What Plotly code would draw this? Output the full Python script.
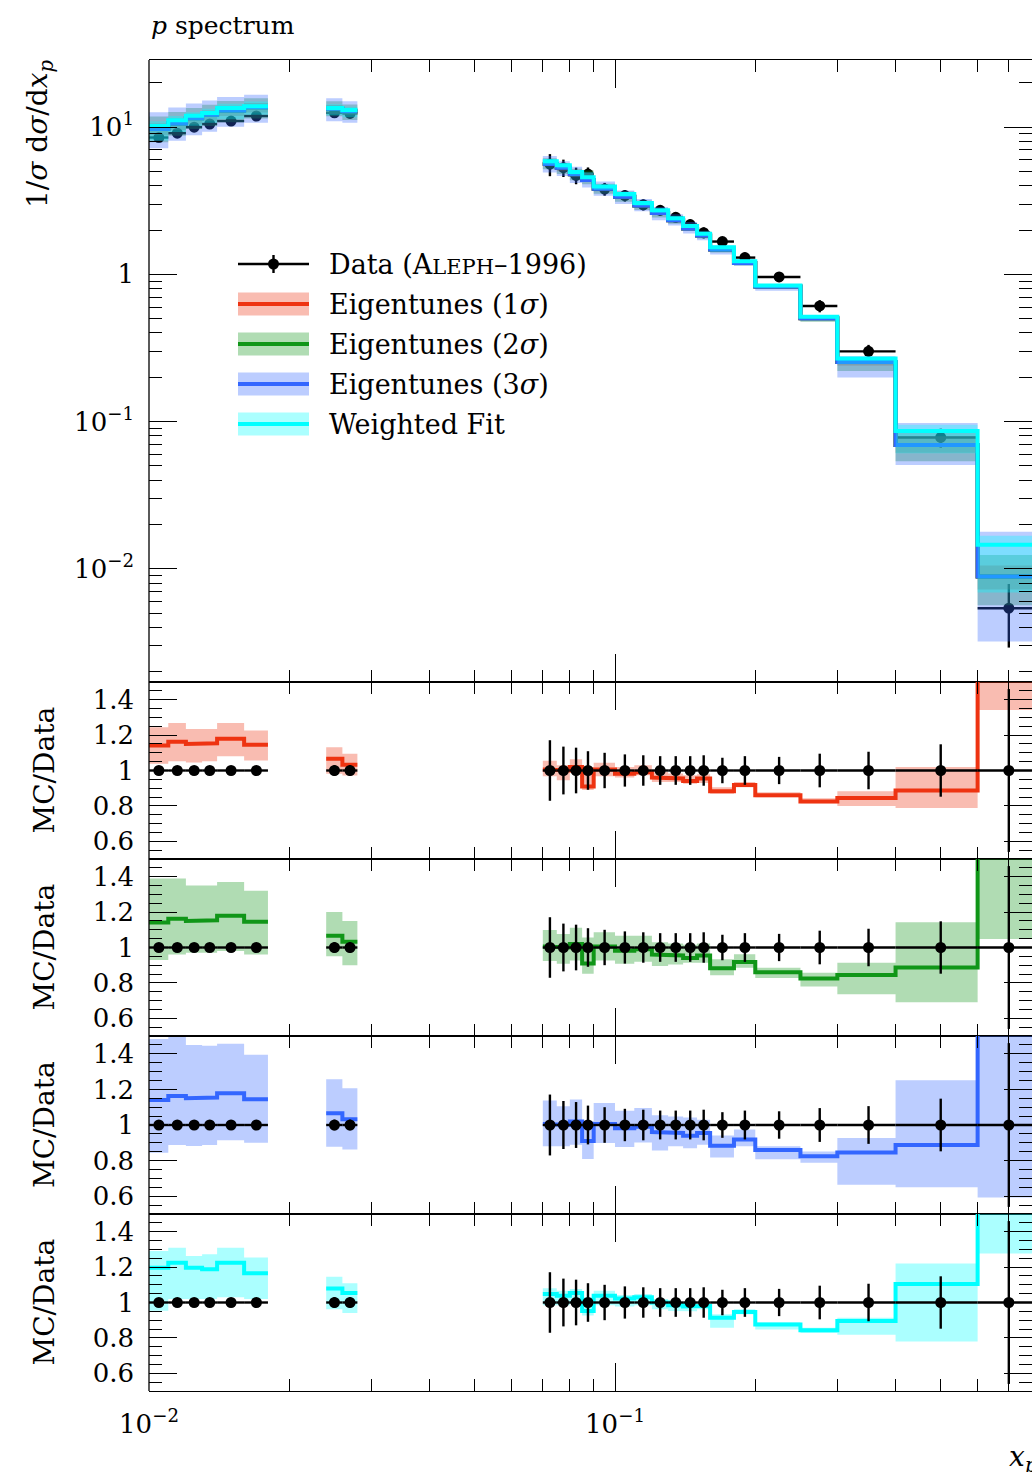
import plotly.graph_objects as go

# ---------------- data ----------------
bin_lo = [0.010, 0.011, 0.012, 0.013, 0.014, 0.016,
          0.024, 0.026,
          0.070, 0.075, 0.080, 0.085, 0.090, 0.10, 0.11, 0.12, 0.13, 0.14,
          0.15, 0.16, 0.18, 0.20, 0.25, 0.30, 0.40, 0.60]
bin_hi = [0.011, 0.012, 0.013, 0.014, 0.016, 0.018,
          0.026, 0.028,
          0.075, 0.080, 0.085, 0.090, 0.10, 0.11, 0.12, 0.13, 0.14, 0.15,
          0.16, 0.18, 0.20, 0.25, 0.30, 0.40, 0.60, 0.80]
x_mid = [0.0105, 0.0115, 0.0125, 0.0135, 0.015, 0.017,
         0.025, 0.027,
         0.0725, 0.0775, 0.0825, 0.0875, 0.095, 0.105, 0.115, 0.125, 0.135,
         0.145, 0.155, 0.17, 0.19, 0.225, 0.275, 0.35, 0.5, 0.7]

data_val = [8.5, 9.1, 10.0, 10.5, 11.0, 11.9,
            12.5, 12.4,
            5.6, 5.3, 4.7, 4.8, 3.8, 3.43, 2.97, 2.72, 2.44, 2.18, 1.92,
            1.67, 1.30, 0.96, 0.61, 0.30, 0.078, 0.0054]
data_relerr = [0.025, 0.025, 0.025, 0.025, 0.025, 0.025,
               0.03, 0.03,
               0.171, 0.135, 0.129, 0.109, 0.10, 0.091, 0.086, 0.081, 0.081,
               0.081, 0.086, 0.072, 0.081, 0.077, 0.095, 0.106, 0.148, 0.46]

# MC/Data ratios (eigentunes share the central value)
eig_ratio = [1.141, 1.163, 1.15, 1.154, 1.179, 1.145,
             1.066, 1.032,
             1.005, 1.0, 1.02, 0.91, 1.005, 0.982, 0.99, 0.96, 0.955, 0.94,
             0.955, 0.883, 0.918, 0.86, 0.825, 0.845, 0.887, 1.64]

e1_lo = [1.038, 1.052, 1.045, 1.052, 1.08, 1.056,
         0.981, 0.972,
         0.967, 0.945, 0.987, 0.89, 0.967, 0.96, 0.973, 0.935, 0.935, 0.925,
         0.93, 0.868, 0.906, 0.849, 0.815, 0.80, 0.788, 1.342]
e1_hi = [1.244, 1.269, 1.235, 1.235, 1.269, 1.226,
         1.131, 1.094,
         1.055, 1.03, 1.063, 1.02, 1.044, 1.02, 1.03, 0.992, 0.983, 0.973,
         0.979, 0.906, 0.935, 0.877, 0.843, 0.883, 1.02, 1.95]

e2_lo = [0.93, 0.96, 0.97, 0.97, 0.98, 0.96,
         0.95, 0.90,
         0.924, 0.908, 0.927, 0.851, 0.927, 0.908, 0.92, 0.895, 0.904, 0.914,
         0.914, 0.843, 0.885, 0.828, 0.78, 0.736, 0.69, 1.048]
e2_hi = [1.39, 1.39, 1.35, 1.35, 1.37, 1.32,
         1.20, 1.15,
         1.099, 1.076, 1.111, 1.057, 1.086, 1.067, 1.067, 1.029, 1.023, 1.015,
         1.023, 0.933, 0.962, 0.885, 0.857, 0.914, 1.143, 2.3]

e3_lo = [0.844, 0.887, 0.882, 0.887, 0.915, 0.90,
         0.878, 0.863,
         0.88, 0.88, 0.889, 0.809, 0.899, 0.876, 0.902, 0.857, 0.88, 0.87,
         0.889, 0.818, 0.88, 0.807, 0.788, 0.665, 0.65, 0.593]
e3_hi = [1.483, 1.494, 1.45, 1.445, 1.456, 1.394,
         1.257, 1.207,
         1.138, 1.105, 1.143, 1.023, 1.124, 1.08, 1.096, 1.055, 1.048, 1.042,
         1.029, 0.941, 0.975, 0.88, 0.851, 0.927, 1.252, 3.3]

wf_ratio = [1.197, 1.225, 1.197, 1.188, 1.225, 1.165,
            1.079, 1.053,
            1.048, 1.038, 1.054, 0.952, 1.038, 1.023, 1.029, 1.0, 0.985, 0.977,
            0.981, 0.914, 0.946, 0.876, 0.843, 0.895, 1.105, 2.7]
wf_lo = [0.953, 1.02, 1.02, 1.02, 1.03, 1.02,
         0.962, 0.94,
         0.985, 0.985, 0.996, 0.927, 0.985, 0.977, 0.985, 0.962, 0.952, 0.95,
         0.962, 0.857, 0.933, 0.847, 0.828, 0.818, 0.78, 1.277]
wf_hi = [1.291, 1.31, 1.263, 1.272, 1.31, 1.254,
         1.146, 1.109,
         1.08, 1.067, 1.076, 1.029, 1.067, 1.042, 1.048, 1.02, 1.0, 0.996,
         0.99, 0.933, 0.962, 0.889, 0.857, 0.914, 1.22, 3.1]

series_names = ["Eigentunes (1<i>σ</i>)", "Eigentunes (2<i>σ</i>)",
                "Eigentunes (3<i>σ</i>)", "Weighted Fit"]
series_colors = ["#EE3311", "#109618", "#3366FF", "#00FFFF"]
series_central = [eig_ratio, eig_ratio, eig_ratio, wf_ratio]
series_lo = [e1_lo, e2_lo, e3_lo, wf_lo]
series_hi = [e1_hi, e2_hi, e3_hi, wf_hi]

# ---------------- helpers ----------------
W, H = 1032, 1472
FONT = "DejaVu Serif"


def px(x):
    return x / W


def py(y):
    return 1 - y / H


def rgba(hexc, a):
    h = hexc.lstrip("#")
    return "rgba(%d,%d,%d,%.3f)" % (int(h[0:2], 16), int(h[2:4], 16), int(h[4:6], 16), a)


def groups():
    g, cur = [], [0]
    for i in range(1, len(bin_lo)):
        if abs(bin_lo[i] - bin_hi[i - 1]) < 1e-9:
            cur.append(i)
        else:
            g.append(cur)
            cur = [i]
    g.append(cur)
    return g


GROUPS = groups()


def step_xy(vals):
    xs, ys = [], []
    for g in GROUPS:
        for i in g:
            xs += [bin_lo[i], bin_hi[i]]
            ys += [vals[i], vals[i]]
        xs.append(None)
        ys.append(None)
    return xs, ys


def band_xy(lo, hi):
    xs, ys = [], []
    for g in GROUPS:
        for i in g:
            xs += [bin_lo[i], bin_hi[i]]
            ys += [hi[i], hi[i]]
        for i in reversed(g):
            xs += [bin_hi[i], bin_lo[i]]
            ys += [lo[i], lo[i]]
        xs.append(None)
        ys.append(None)
    return xs, ys


fig = go.Figure()

# ---------------- top panel ----------------
err_plus = [bin_hi[i] - x_mid[i] for i in range(len(x_mid))]
err_minus = [x_mid[i] - bin_lo[i] for i in range(len(x_mid))]

fig.add_trace(go.Scatter(
    x=x_mid, y=data_val, mode="markers", xaxis="x", yaxis="y",
    marker=dict(color="black", size=11),
    error_y=dict(type="data", array=[v * e for v, e in zip(data_val, data_relerr)],
                 color="black", thickness=2.4, width=0),
    error_x=dict(type="data", array=err_plus, arrayminus=err_minus,
                 color="black", thickness=2.4, width=0),
    showlegend=False, hoverinfo="skip"))

for k in range(4):
    c = series_colors[k]
    lo_abs = [r * d for r, d in zip(series_lo[k], data_val)]
    hi_abs = [r * d for r, d in zip(series_hi[k], data_val)]
    cen_abs = [r * d for r, d in zip(series_central[k], data_val)]
    bx, by = band_xy(lo_abs, hi_abs)
    fig.add_trace(go.Scatter(x=bx, y=by, mode="lines", fill="toself",
                             fillcolor=rgba(c, 0.33), line=dict(width=0, color=rgba(c, 0)),
                             xaxis="x", yaxis="y", showlegend=False, hoverinfo="skip"))
    lx, ly = step_xy(cen_abs)
    fig.add_trace(go.Scatter(x=lx, y=ly, mode="lines", line=dict(color=c, width=4),
                             xaxis="x", yaxis="y", showlegend=False, hoverinfo="skip"))

# ---------------- ratio panels ----------------
for k in range(4):
    ax = str(k + 2)
    c = series_colors[k]
    bx, by = band_xy(series_lo[k], series_hi[k])
    fig.add_trace(go.Scatter(x=bx, y=by, mode="lines", fill="toself",
                             fillcolor=rgba(c, 0.33), line=dict(width=0, color=rgba(c, 0)),
                             xaxis="x" + ax, yaxis="y" + ax, showlegend=False, hoverinfo="skip"))
    lx, ly = step_xy(series_central[k])
    fig.add_trace(go.Scatter(x=lx, y=ly, mode="lines", line=dict(color=c, width=4),
                             xaxis="x" + ax, yaxis="y" + ax, showlegend=False, hoverinfo="skip"))
    fig.add_trace(go.Scatter(
        x=x_mid, y=[1.0] * len(x_mid), mode="markers", xaxis="x" + ax, yaxis="y" + ax,
        marker=dict(color="black", size=11),
        error_y=dict(type="data", array=data_relerr, color="black", thickness=2.4, width=0),
        error_x=dict(type="data", array=err_plus, arrayminus=err_minus,
                     color="black", thickness=2.4, width=0),
        showlegend=False, hoverinfo="skip"))

# ---------------- axes ----------------
X0 = 149 / W
XMAX = -2 + (W - 149) / 466.0
x_major = [0.01, 0.1]
x_minor = [0.02, 0.03, 0.04, 0.05, 0.06, 0.07, 0.08, 0.09, 0.2, 0.3, 0.4, 0.5, 0.6, 0.7]
tickfont = dict(family=FONT, size=26, color="black")

panel_px = [(60, 682), (682, 859), (859, 1036), (1036, 1214), (1214, 1391)]

layout = dict(
    width=W, height=H, autosize=False,
    margin=dict(l=0, r=0, t=0, b=0, autoexpand=False),
    paper_bgcolor="white", plot_bgcolor="white",
    font=dict(family=FONT, color="black"),
    showlegend=False,
)

for i, (ytop, ybot) in enumerate(panel_px):
    sfx = "" if i == 0 else str(i + 1)
    last = (i == len(panel_px) - 1)
    layout["xaxis" + sfx] = dict(
        domain=[X0, 1.0], anchor="y" + sfx, type="log", range=[-2, XMAX],
        showline=True, linecolor="black", linewidth=1.3, mirror="ticks",
        ticks="inside", ticklen=28, tickwidth=1.3, tickcolor="black",
        tickmode="array", tickvals=x_major,
        ticktext=["10<sup>−2</sup>", "10<sup>−1</sup>"],
        showticklabels=last, tickfont=tickfont, ticklabelstandoff=10,
        minor=dict(tickmode="array", tickvals=x_minor, ticks="inside", ticklen=12,
                   tickwidth=1.3, tickcolor="black", showgrid=False),
        showgrid=False, zeroline=False, fixedrange=True, automargin=False,
        **({} if i == 0 else {"matches": "x"}))
    ydom = [py(ybot), py(ytop)]
    if i == 0:
        y_minor = []
        for dec in [0.001, 0.01, 0.1, 1, 10]:
            for m in range(2, 10):
                y_minor.append(m * dec)
        layout["yaxis"] = dict(
            domain=ydom, anchor="x", type="log", range=[-2.769, 1.456],
            showline=False, mirror="ticks",
            ticks="inside", ticklen=28, tickwidth=1.3, tickcolor="black",
            tickmode="array", tickvals=[0.01, 0.1, 1, 10],
            ticktext=["10<sup>−2</sup>", "10<sup>−1</sup>", "1", "10<sup>1</sup>"],
            tickfont=tickfont, ticklabelstandoff=14,
            minor=dict(tickmode="array", tickvals=y_minor, ticks="inside", ticklen=13,
                       tickwidth=1.3, tickcolor="black", showgrid=False),
            showgrid=False, zeroline=False, fixedrange=True, automargin=False)
    else:
        layout["yaxis" + sfx] = dict(
            domain=ydom, anchor="x" + sfx, range=[0.5, 1.5],
            showline=False, mirror="ticks",
            ticks="inside", ticklen=28, tickwidth=1.3, tickcolor="black",
            tickmode="array", tickvals=[0.6, 0.8, 1.0, 1.2, 1.4],
            ticktext=["0.6", "0.8", "1", "1.2", "1.4"],
            tickfont=tickfont, ticklabelstandoff=14,
            minor=dict(tick0=0.5, dtick=0.05, ticks="inside", ticklen=13,
                       tickwidth=1.3, tickcolor="black", showgrid=False),
            showgrid=False, zeroline=False, fixedrange=True, automargin=False)

fig.update_layout(**layout)

# ---------------- frame (left edge) ----------------
shapes = [dict(type="line", xref="paper", yref="paper", x0=X0, x1=X0,
               y0=py(1391), y1=py(60), line=dict(color="black", width=1.3))]

# ---------------- legend (manual) ----------------
leg_x0, leg_x1 = 238, 309
leg_y = [264, 304, 344, 384, 424]
annotations = []
shapes.append(dict(type="line", xref="paper", yref="paper", x0=px(leg_x0), x1=px(leg_x1),
                   y0=py(leg_y[0]), y1=py(leg_y[0]), line=dict(color="black", width=2.4)))
shapes.append(dict(type="line", xref="paper", yref="paper", x0=px(273.5), x1=px(273.5),
                   y0=py(leg_y[0] - 9), y1=py(leg_y[0] + 9), line=dict(color="black", width=2.4)))
shapes.append(dict(type="circle", xref="paper", yref="paper",
                   x0=px(268), x1=px(279), y0=py(leg_y[0] + 5.5), y1=py(leg_y[0] - 5.5),
                   fillcolor="black", line=dict(color="black", width=0)))
annotations.append(dict(xref="paper", yref="paper", x=px(327), y=py(leg_y[0]),
                        xanchor="left", yanchor="middle", showarrow=False,
                        text="Data (A<span style='font-size:21px'>LEPH</span>–1996)",
                        font=dict(family=FONT, size=27, color="black")))
for k in range(4):
    yc = leg_y[k + 1]
    c = series_colors[k]
    shapes.append(dict(type="rect", xref="paper", yref="paper",
                       x0=px(leg_x0), x1=px(leg_x1), y0=py(yc + 11.5), y1=py(yc - 11.5),
                       fillcolor=rgba(c, 0.33), line=dict(width=0)))
    shapes.append(dict(type="line", xref="paper", yref="paper",
                       x0=px(leg_x0), x1=px(leg_x1), y0=py(yc), y1=py(yc),
                       line=dict(color=c, width=4)))
    annotations.append(dict(xref="paper", yref="paper", x=px(327), y=py(yc),
                            xanchor="left", yanchor="middle", showarrow=False,
                            text=series_names[k],
                            font=dict(family=FONT, size=27, color="black")))

# ---------------- titles ----------------
annotations.append(dict(xref="paper", yref="paper", x=px(149), y=py(25),
                        xanchor="left", yanchor="middle", showarrow=False,
                        text="<i>p</i> spectrum",
                        font=dict(family=FONT, size=25, color="black")))
annotations.append(dict(xref="paper", yref="paper", x=px(40), y=py(58),
                        xanchor="center", yanchor="top", showarrow=False, textangle=-90,
                        text="1/<i>σ</i> d<i>σ</i>/d<i>x</i><sub><i>p</i></sub>",
                        font=dict(family=FONT, size=28, color="black")))
for (ytop, ybot) in panel_px[1:]:
    annotations.append(dict(xref="paper", yref="paper", x=px(44), y=py((ytop + ybot) / 2),
                            xanchor="center", yanchor="middle", showarrow=False, textangle=-90,
                            text="MC/Data",
                            font=dict(family=FONT, size=28, color="black")))
annotations.append(dict(xref="paper", yref="paper", x=px(1040), y=py(1458),
                        xanchor="right", yanchor="middle", showarrow=False,
                        text="<i>x</i><sub><i>p</i></sub>",
                        font=dict(family=FONT, size=28, color="black")))

fig.update_layout(shapes=shapes, annotations=annotations)

fig.write_html("out.html")
